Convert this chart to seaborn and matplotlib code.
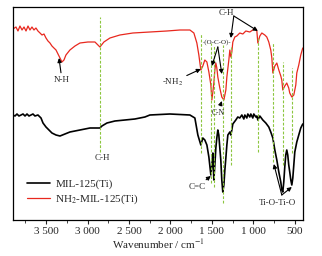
import numpy as np
import pandas as pd
import matplotlib
matplotlib.use('Agg')
import matplotlib.pyplot as plt
from matplotlib.ticker import MultipleLocator, FuncFormatter
import seaborn as sns

sns.set_theme(style='ticks')
plt.rcParams['font.family'] = ['Liberation Serif', 'DejaVu Serif']
plt.rcParams['mathtext.fontset'] = 'stix'
plt.rcParams['font.size'] = 8

# NH2-MIL-125(Ti) spectrum, transmittance in arbitrary units
red_wn = [3900, 3864, 3840, 3816, 3791, 3767, 3743, 3719, 3695, 3671, 3647, 3623, 3599,
          3574, 3550, 3526, 3502, 3478, 3454, 3430, 3406, 3381, 3357, 3333, 3309, 3285,
          3261, 3213, 3152, 3092, 2996, 2911, 2851, 2803, 2730, 2610, 2453, 2248, 2043,
          1886, 1765, 1717, 1681, 1657, 1633, 1609, 1585, 1560, 1536, 1512, 1500, 1488,
          1476, 1464, 1452, 1440, 1428, 1404, 1380, 1355, 1331, 1319, 1295, 1283, 1271,
          1259, 1247, 1223, 1199, 1163, 1126, 1090, 1042, 1006, 969, 957, 945, 921, 897,
          861, 837, 813, 789, 776, 764, 740, 716, 692, 668, 656, 644, 620, 596, 572, 560,
          535, 511, 487, 475, 451, 427, 403]
red_t = [191, 193, 189, 194, 190, 193, 189, 194, 190, 193, 190, 192, 189,
         187, 185, 186, 182, 179, 177, 174, 172, 170, 166, 162, 158, 160,
         165, 170, 174, 177, 178, 178, 173, 178, 182, 185, 187, 188, 189,
         190, 190, 187, 177, 165, 150, 154, 160, 158, 148, 135, 120, 128,
         137, 150, 157, 152, 143, 132, 123, 120, 130, 143, 160, 170, 163,
         168, 178, 183, 184, 187, 186, 189, 188, 190, 191, 189, 177, 184, 187,
         185, 183, 178, 170, 162, 147, 154, 157, 150, 144, 140, 130, 134, 137, 132, 127,
         123, 125, 135, 147, 155, 165, 172]

# MIL-125(Ti) spectrum
black_wn = [3900, 3876, 3852, 3828, 3803, 3779, 3755, 3731, 3707, 3683, 3659, 3635, 3599,
            3562, 3538, 3502, 3466, 3430, 3381, 3333, 3273, 3213, 3092, 2971, 2911, 2851,
            2827, 2766, 2670, 2549, 2429, 2308, 2248, 2007, 1765, 1705, 1669, 1633, 1609,
            1585, 1560, 1536, 1512, 1500, 1488, 1476, 1464, 1452, 1440, 1428, 1416, 1404,
            1392, 1380, 1368, 1355, 1343, 1331, 1319, 1307, 1283, 1271, 1259, 1247, 1211,
            1187, 1163, 1138, 1114, 1102, 1078, 1066, 1042, 1030, 1006, 994, 969, 957, 945,
            921, 885, 849, 813, 789, 764, 740, 716, 692, 668, 656, 644, 632, 620, 608, 596,
            584, 572, 560, 547, 535, 523, 511, 499, 475, 451, 427, 403]
black_t = [105, 104, 106, 104, 105, 106, 104, 106, 104, 105, 106, 104, 105,
           102, 97, 93, 90, 87, 85, 84, 86, 88, 90, 92, 92, 92,
           94, 97, 99, 100, 101, 103, 105, 106, 105, 102, 85, 75, 82,
           80, 75, 63, 45, 55, 67, 40, 55, 72, 82, 90, 85, 72,
           60, 40, 28, 35, 50, 62, 75, 85, 88, 85, 90, 96, 100,
           103, 102, 105, 101, 105, 102, 106, 103, 106, 102, 106, 103, 104, 100,
           104, 100, 97, 93, 88, 82, 70, 60, 48, 38, 30, 28, 38, 53, 65, 70,
           65, 55, 48, 40, 35, 42, 55, 68, 78, 85, 92, 96]

# green dashed marker lines: wavenumber, top and bottom
mark_wn = [2851, 1633, 1512, 1476, 1368, 1271, 945, 764, 644, 535]
mark_top = [203, 187, 177, 175, 175, 173, 183, 178, 158, 152]
mark_bot = [68, 67, 37, 33, 17, 55, 68, 58, 55, 67]

fig = plt.figure(figsize=(3.22, 2.56), dpi=100)
ax = fig.add_axes([13 / 322, 36 / 256, 290 / 322, 213 / 256])

ax.vlines(mark_wn, mark_bot, mark_top, colors='#8cc63f', linestyles=(0, (2.5, 1.5)), lw=0.8, zorder=3)

red = pd.DataFrame({'wn': red_wn, 't': red_t})
black = pd.DataFrame({'wn': black_wn, 't': black_t})
sns.lineplot(data=black, x='wn', y='t', color='black', lw=1.2, ax=ax, label='MIL-125(Ti)', sort=False, zorder=2)
sns.lineplot(data=red, x='wn', y='t', color='#e8281e', lw=0.9, ax=ax, label='NH$_2$-MIL-125(Ti)', sort=False, zorder=2)

ax.set_xlim(3900, 400)
ax.set_ylim(0, 213)
ax.set_yticks([])
ax.set_ylabel('')
ax.set_xlabel('Wavenumber / cm$^{-1}$', fontsize=8, labelpad=1)
ax.xaxis.set_major_locator(MultipleLocator(500))
ax.xaxis.set_minor_locator(MultipleLocator(250))
ax.xaxis.set_major_formatter(FuncFormatter(lambda v, p: f'{int(v):,}'.replace(',', ' ')))
ax.tick_params(axis='x', which='major', direction='out', length=3, width=0.8, labelsize=8, pad=2)
ax.tick_params(axis='x', which='minor', direction='out', length=2, width=0.6)
for s in ax.spines.values():
    s.set_linewidth(0.9)
    s.set_color('black')

ap = dict(arrowstyle='-|>', color='black', lw=0.8, mutation_scale=6, shrinkA=0, shrinkB=0)
fs = 6.5
ax.annotate('N-H', xy=(3345, 162), xytext=(3309, 140), ha='center', va='center', fontsize=fs, arrowprops=ap)
ax.text(2827, 62, 'C-H', ha='center', va='center', fontsize=fs)
ax.annotate('-NH$_2$', xy=(1633, 151), xytext=(1970, 138), ha='center', va='center', fontsize=fs, arrowprops=ap)
ax.text(1440, 178, '-(O-C-O)-', ha='center', va='center', fontsize=5)
ax.annotate('', xy=(1500, 154), xytext=(1428, 173), arrowprops=ap)
ax.annotate('', xy=(1380, 146), xytext=(1428, 173), arrowprops=ap)
ax.annotate('C-N', xy=(1380, 119), xytext=(1428, 107), ha='center', va='center', fontsize=5.5, arrowprops=ap)
ax.text(1331, 207, 'C-H', ha='center', va='center', fontsize=fs)
ax.annotate('', xy=(1271, 182), xytext=(1235, 204), arrowprops=ap)
ax.annotate('', xy=(945, 189), xytext=(1235, 204), arrowprops=ap)
ax.annotate('C=C', xy=(1512, 44), xytext=(1681, 33), ha='center', va='center', fontsize=fs, arrowprops=ap)
ax.text(704, 17, 'Ti-O-Ti-O', ha='center', va='center', fontsize=fs)
ax.annotate('', xy=(752, 56), xytext=(656, 25), arrowprops=ap)
ax.annotate('', xy=(535, 33), xytext=(656, 25), arrowprops=ap)

ax.legend(loc='lower left', bbox_to_anchor=(0.02, 0.03), frameon=False, fontsize=8,
          handlelength=2.1, handletextpad=0.5, labelspacing=0.3, borderpad=0.2)

fig.savefig('out.png', dpi=100)
